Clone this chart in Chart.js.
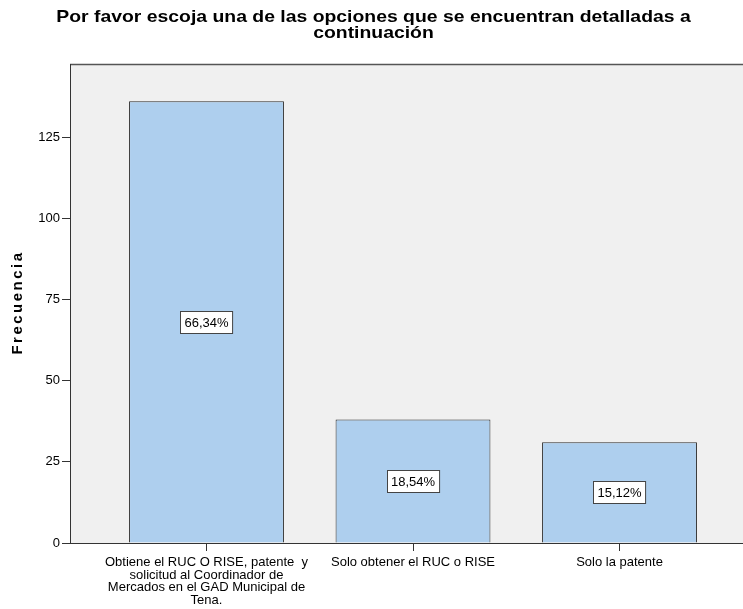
<!DOCTYPE html>
<html>
<head>
<meta charset="utf-8">
<script src="https://cdn.jsdelivr.net/npm/chart.js@4/dist/chart.umd.min.js"></script>
<style>
  html, body { margin: 0; padding: 0; background: #fff; }
  #wrap { width: 743px; height: 609px; }
</style>
</head>
<body>
<div id="wrap"><canvas id="grafico"></canvas></div>
<script>
// Datos
const categorias = [
    ['Obtiene el RUC O RISE, patente  y', 'solicitud al Coordinador de', 'Mercados en el GAD Municipal de', 'Tena.'],
    ['Solo obtener el RUC o RISE'],
    ['Solo la patente']
];
const frecuencias = [136, 38, 31];
const porcentajes = ['66,34%', '18,54%', '15,12%'];
const ticksY = [0, 25, 50, 75, 100, 125];
const titulo = ['Por favor escoja una de las opciones que se encuentran detalladas a', 'continuación'];
const tituloY = 'Frecuencia';

const fuente = "'Liberation Sans', Arial, sans-serif";

// Fondo gris del área de trazado + borde superior
const fondoPlugin = {
    id: 'fondo',
    beforeDraw(chart) {
        const { ctx, chartArea: a } = chart;
        ctx.save();
        ctx.fillStyle = '#f0f0f0';
        ctx.fillRect(a.left, a.top, a.right - a.left, a.bottom - a.top);
        ctx.strokeStyle = '#555';
        ctx.lineWidth = 1.5;
        ctx.beginPath();
        ctx.moveTo(a.left, a.top + 0.5);
        ctx.lineTo(a.right, a.top + 0.5);
        ctx.stroke();
        ctx.restore();
    }
};

// Etiquetas de porcentaje en el centro de cada barra
const etiquetasPlugin = {
    id: 'etiquetas',
    afterDatasetsDraw(chart) {
        const { ctx } = chart;
        const meta = chart.getDatasetMeta(0);
        ctx.save();
        ctx.font = '13px ' + fuente;
        ctx.textAlign = 'center';
        ctx.textBaseline = 'middle';
        meta.data.forEach((bar, i) => {
            const txt = porcentajes[i];
            const cy = (bar.y + bar.base) / 2;
            const w = ctx.measureText(txt).width + 8;
            const h = 22;
            const x0 = Math.round(bar.x - w / 2) + 0.5;
            const y0 = Math.round(cy - h / 2) + 0.5;
            ctx.fillStyle = '#fff';
            ctx.fillRect(x0, y0, w, h);
            ctx.strokeStyle = '#444';
            ctx.lineWidth = 1;
            ctx.strokeRect(x0, y0, w, h);
            ctx.fillStyle = '#000';
            ctx.fillText(txt, bar.x, cy + 1);
        });
        ctx.restore();
    }
};

// Títulos: el principal algo ensanchado, el del eje Y con espaciado
const titulosPlugin = {
    id: 'titulos',
    afterDraw(chart) {
        const { ctx, chartArea: a, width } = chart;
        ctx.save();
        ctx.fillStyle = '#000';
        ctx.textAlign = 'center';
        ctx.textBaseline = 'middle';
        ctx.font = 'bold 17px ' + fuente;
        titulo.forEach((linea, i) => {
            ctx.save();
            ctx.translate(width / 2 + 2, 17 + i * 16.5);
            ctx.scale(1.14, 1);
            ctx.fillText(linea, 0, 0);
            ctx.restore();
        });

        ctx.translate(18, (a.top + a.bottom) / 2);
        ctx.rotate(-Math.PI / 2);
        ctx.font = 'bold 15px ' + fuente;
        ctx.letterSpacing = '2.5px';
        ctx.fillText(tituloY, 1, 0);
        ctx.restore();
    }
};

const ctx = document.getElementById('grafico').getContext('2d');
const grafico = new Chart(ctx, {
    type: 'bar',
    data: {
        datasets: [{
            label: tituloY,
            data: frecuencias.map((v, i) => ({ x: i + 1, y: v })),
            backgroundColor: '#aecfee',
            borderColor: '#2a2a2a',
            borderWidth: 1,
            categoryPercentage: 1,
            barPercentage: 0.75
        }]
    },
    options: {
        responsive: true,
        maintainAspectRatio: false,
        animation: false,
        layout: { padding: { top: 64, left: 0, right: 0, bottom: 0 } },
        plugins: {
            legend: { display: false },
            tooltip: { enabled: false },
            title: { display: false }
        },
        scales: {
            x: {
                type: 'linear',
                offset: false,
                min: 0.339,
                max: 3.598,
                afterBuildTicks(scale) {
                    scale.ticks = categorias.map((c, i) => ({ value: i + 1 }));
                },
                afterFit(scale) { scale.height = 66; },
                grid: { offset: false, drawOnChartArea: false, drawTicks: true, tickLength: 8, color: '#333' },
                border: { color: '#333', width: 1 },
                ticks: {
                    autoSkip: false,
                    maxRotation: 0,
                    padding: 5,
                    color: '#000',
                    font: { family: fuente, size: 13, lineHeight: 0.98 },
                    callback: (v) => categorias[v - 1] || ''
                }
            },
            y: {
                min: 0,
                max: 147.5,
                afterBuildTicks(scale) {
                    scale.ticks = ticksY.map(v => ({ value: v }));
                },
                afterFit(scale) { scale.width = 70; },
                grid: { drawOnChartArea: false, drawTicks: true, tickLength: 8, color: '#333' },
                border: { color: '#333', width: 1 },
                ticks: {
                    padding: 2,
                    color: '#000',
                    font: { family: fuente, size: 13 }
                }
            }
        }
    },
    plugins: [fondoPlugin, etiquetasPlugin, titulosPlugin]
});
</script>
</body>
</html>
